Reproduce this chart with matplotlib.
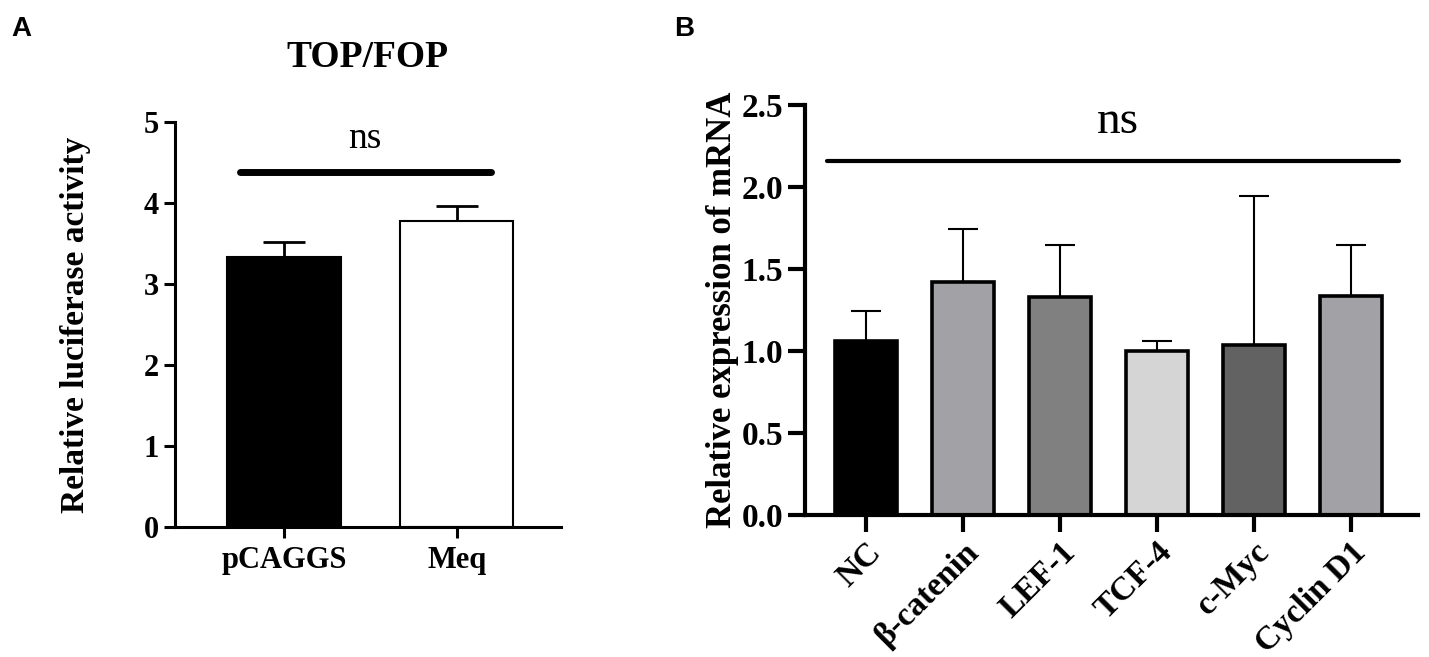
import numpy as np
import matplotlib
matplotlib.use('Agg')
import matplotlib.pyplot as plt

plt.rcParams['font.family'] = ['Liberation Serif', 'DejaVu Serif']
plt.rcParams['font.weight'] = 'bold'

# panel A data
a_groups = ['pCAGGS', 'Meq']
a_means = [3.33, 3.78]
a_upper = [3.52, 3.96]
a_colors = ['black', 'white']

# panel B data
b_genes = ['NC', 'β-catenin', 'LEF-1', 'TCF-4', 'c-Myc', 'Cyclin D1']
b_means = [1.06, 1.42, 1.33, 1.00, 1.04, 1.335]
b_upper = [1.245, 1.745, 1.645, 1.063, 1.944, 1.65]
b_colors = ['#000000', '#a2a1a6', '#808080', '#d5d5d5', '#626262', '#a2a1a6']

fig = plt.figure(figsize=(14.29, 6.57), dpi=100)

# ---------- A ----------
ax1 = fig.add_axes([0.1225, 0.198, 0.27, 0.616])
xa = np.arange(len(a_groups))
ax1.bar(xa, a_means, width=0.66, color=a_colors, edgecolor='black', linewidth=1.5, zorder=2)
ax1.errorbar(xa, a_means, yerr=[np.zeros(2), np.array(a_upper) - np.array(a_means)],
             fmt='none', ecolor='black', elinewidth=2, capsize=15, capthick=2, zorder=1)
ax1.set_xlim(-0.634, 1.605)
ax1.set_ylim(0, 5)
ax1.set_xticks(xa)
ax1.set_xticklabels(a_groups, fontsize=22, fontweight='bold')
ax1.set_yticks(range(6))
ax1.tick_params(axis='both', width=2.2, length=8, labelsize=22, direction='out')
ax1.tick_params(axis='x', pad=6)
for s in ['top', 'right']:
    ax1.spines[s].set_visible(False)
for s in ['left', 'bottom']:
    ax1.spines[s].set_linewidth(2.2)
ax1.set_ylabel('Relative luciferase activity', fontsize=24, fontweight='bold', labelpad=38)
ax1.plot([-0.26, 1.2], [4.38, 4.38], color='black', lw=5, solid_capstyle='round', clip_on=False)
ax1.text(0.47, 4.58, 'ns', ha='center', va='bottom', fontsize=27, fontweight='normal')
ax1.set_title('TOP/FOP', fontsize=27, fontweight='bold', pad=40)

# ---------- B ----------
ax2 = fig.add_axes([0.563, 0.216, 0.429, 0.624])
xb = np.arange(len(b_genes))
ax2.bar(xb, b_means, width=0.64, color=b_colors, edgecolor='black', linewidth=2.6, zorder=2)
ax2.errorbar(xb, b_means, yerr=[np.zeros(len(b_genes)), np.array(b_upper) - np.array(b_means)],
             fmt='none', ecolor='black', elinewidth=1.5, capsize=11, capthick=1.5, zorder=1)
ax2.set_xlim(-0.63, 5.69)
ax2.set_ylim(0, 2.5)
ax2.set_xticks(xb)
ax2.set_xticklabels(b_genes, rotation=45, ha='right', rotation_mode='anchor', fontsize=24, fontweight='bold')
ax2.set_yticks([0, 0.5, 1.0, 1.5, 2.0, 2.5])
ax2.set_yticklabels(['0.0', '0.5', '1.0', '1.5', '2.0', '2.5'])
ax2.tick_params(axis='both', width=3, length=12, labelsize=24, direction='out')
for s in ['top', 'right']:
    ax2.spines[s].set_visible(False)
for s in ['left', 'bottom']:
    ax2.spines[s].set_linewidth(3)
ax2.set_ylabel('Relative expression of mRNA', fontsize=25, fontweight='bold', labelpad=2)
ax2.plot([-0.4, 5.5], [2.158, 2.158], color='black', lw=3, solid_capstyle='round', clip_on=False)
ax2.text(2.6, 2.27, 'ns', ha='center', va='bottom', fontsize=34, fontweight='normal')

fig.text(0.008, 0.945, 'A', fontsize=20, fontweight='bold', family=['Liberation Sans'])
fig.text(0.472, 0.945, 'B', fontsize=20, fontweight='bold', family=['Liberation Sans'])

fig.savefig('out.png', dpi=100)
